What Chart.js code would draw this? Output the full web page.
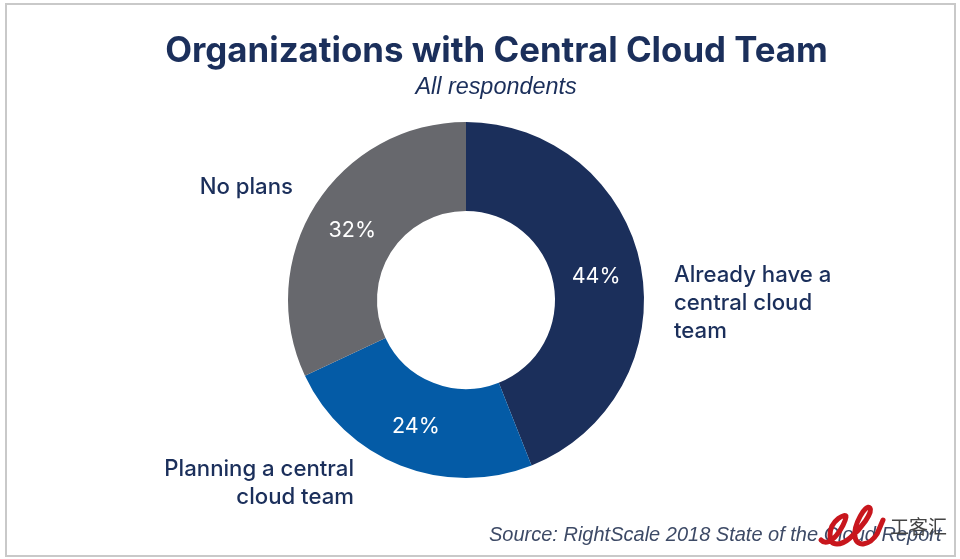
<!DOCTYPE html>
<html>
<head>
<meta charset="utf-8">
<script src="https://cdn.jsdelivr.net/npm/chart.js@4"></script>
<style>
  html, body { margin: 0; padding: 0; background: #fff; }
  #wrap { position: relative; width: 960px; height: 559px; overflow: hidden; }
  #frame { position: absolute; left: 5px; top: 3px; width: 947px; height: 550px; border: 2px solid #c9c9c9; }
  #bieu_do { position: absolute; left: 0; top: 0; }
</style>
</head>
<body>
<div id="wrap">
  <div id="frame"></div>
  <canvas id="bieu_do" width="960" height="559"></canvas>
</div>
<script>
const categories = ['Already have a central cloud team', 'Planning a central cloud team', 'No plans'];
const values = [44, 24, 32];
const colors = ['#1b2f5b', '#045ba6', '#67686d'];
const titleText = 'Organizations with Central Cloud Team';
const subtitleText = 'All respondents';
const sourceText = 'Source: RightScale 2018 State of the Cloud Report';

const navy = '#1b2f5b';
const fontName = 'Inter, "Liberation Sans", sans-serif';

// labels around the ring, one line per entry
const outsideLabels = [
    { lines: ['Already have a', 'central cloud', 'team'], x: 674, y: 275, align: 'left' },
    { lines: ['Planning a central', 'cloud team'], x: 354, y: 469, align: 'right' },
    { lines: ['No plans'], x: 293, y: 187, align: 'right' }
];

const textPlugin = {
    id: 'textPlugin',
    afterDraw(chart) {
        const ctx = chart.ctx;
        const arcs = chart.getDatasetMeta(0).data;
        ctx.save();
        ctx.textBaseline = 'middle';

        ctx.fillStyle = navy;
        ctx.textAlign = 'center';
        ctx.font = '700 34.8px ' + fontName;
        ctx.fillText(titleText, 496.5, 52);
        ctx.font = 'italic 23.4px "Liberation Sans", sans-serif';
        ctx.fillText(subtitleText, 496, 87);

        // percentages in the middle of each slice
        ctx.fillStyle = '#fff';
        ctx.font = '21.5px ' + fontName;
        arcs.forEach((arc, i) => {
            const p = arc.tooltipPosition();
            ctx.fillText(values[i] + '%', p.x - 1, p.y + 2);
        });

        ctx.fillStyle = navy;
        ctx.font = '500 22.2px ' + fontName;
        outsideLabels.forEach(l => {
            ctx.textAlign = l.align;
            l.lines.forEach((line, k) => ctx.fillText(line, l.x, l.y + k * 28));
        });

        ctx.fillStyle = '#3d4a66';
        ctx.textAlign = 'left';
        ctx.font = 'italic 20px "Liberation Sans", sans-serif';
        ctx.fillText(sourceText, 489, 535);

        // watermark in the bottom right corner
        ctx.strokeStyle = '#c8161d';
        ctx.lineWidth = 5;
        ctx.lineCap = 'round';
        ctx.beginPath();
        ctx.moveTo(821, 540);
        ctx.bezierCurveTo(830, 550, 845, 525, 846, 517);
        ctx.bezierCurveTo(847, 512, 830, 520, 830, 535);
        ctx.bezierCurveTo(830, 548, 842, 545, 850, 538);
        ctx.bezierCurveTo(862, 528, 873, 512, 870, 508);
        ctx.bezierCurveTo(866, 503, 853, 525, 855, 537);
        ctx.bezierCurveTo(857, 548, 870, 545, 877, 534);
        ctx.lineTo(883, 520);
        ctx.stroke();
        ctx.fillStyle = '#444';
        ctx.font = '19px "Noto Sans CJK SC", sans-serif';
        ctx.fillText('工客汇', 890, 527);
        ctx.restore();
    }
};

const bieu_do = new Chart(document.getElementById('bieu_do'), {
    type: 'doughnut',
    data: {
        labels: categories,
        datasets: [{
            data: values,
            backgroundColor: colors,
            borderWidth: 0
        }]
    },
    options: {
        responsive: false,
        animation: false,
        cutout: '50%',
        layout: { padding: { top: 122, bottom: 81, left: 0, right: 28 } },
        plugins: {
            legend: { display: false },
            tooltip: { enabled: false }
        }
    },
    plugins: [textPlugin]
});
</script>
</body>
</html>
